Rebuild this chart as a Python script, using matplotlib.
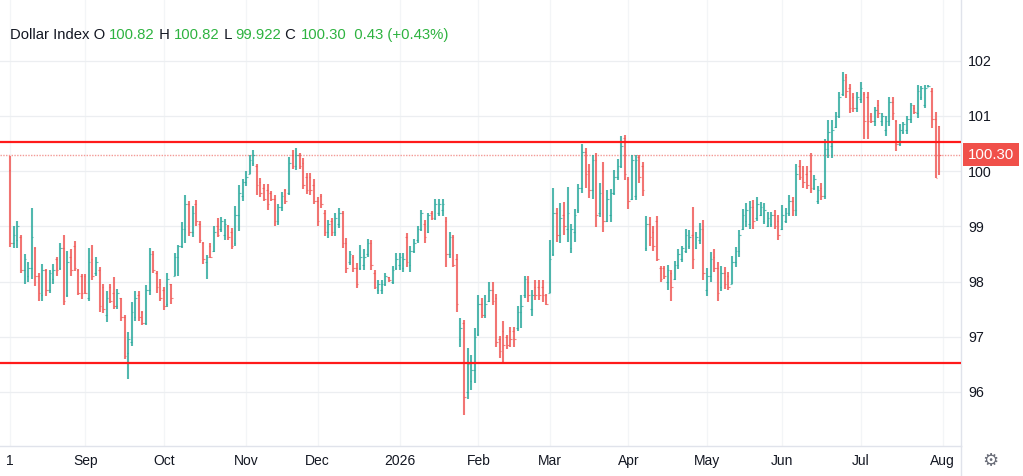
import matplotlib.pyplot as plt
import numpy as np

# daily OHLC bars, Aug 1 2025 .. Jul 31 2026
opens = [
    100.02, 98.70, 98.75, 98.80, 98.20, 98.10, 98.25, 98.60, 98.10, 97.75,
    98.20, 97.85, 98.05, 98.40, 98.25, 98.60, 97.75, 98.45, 98.65, 98.20,
    98.10, 98.10, 97.70, 98.40, 98.15, 98.20, 97.90, 97.40, 97.90, 97.80,
    97.55, 97.70, 97.35, 96.70, 96.90, 97.35, 97.75, 97.45, 97.25, 97.85,
    98.50, 98.15, 97.95, 97.85, 97.60, 97.95, 98.10, 98.45, 98.65, 98.95,
    99.40, 98.90, 99.40, 99.05, 98.70, 98.35, 98.65, 98.55, 99.00, 98.95,
    98.85, 99.00, 98.90, 98.70, 99.20, 99.55, 99.80, 99.95, 100.15, 100.10,
    99.80, 99.70, 99.65, 99.60, 99.50, 99.10, 99.35, 99.65, 99.60, 100.30,
    100.10, 100.30, 100.15, 99.90, 99.90, 99.75, 99.45, 99.55, 99.25, 98.90,
    99.10, 98.90, 99.05, 99.25, 98.70, 98.35, 98.45, 98.25, 98.25, 98.30,
    98.50, 98.70, 98.15, 97.85, 97.85, 97.95, 98.08, 98.00, 98.25, 98.30,
    98.25, 98.80, 98.30, 98.55, 98.75, 98.95, 99.05, 98.90, 99.25, 99.15,
    99.25, 99.30, 99.10, 98.50, 98.80, 98.40, 96.95, 97.25, 96.00, 96.20,
    96.40, 97.05, 97.60, 97.40, 97.65, 97.85, 97.70, 96.95, 97.10, 97.00,
    97.10, 97.10, 97.15, 97.45, 97.75, 98.00, 97.50, 97.90, 97.90, 97.90,
    97.75, 97.80, 98.50, 99.25, 98.85, 99.20, 98.95, 98.60, 98.90, 99.30,
    99.70, 100.35, 100.00, 99.65, 100.20, 99.25, 100.00, 99.10, 99.20, 99.60,
    99.90, 100.10, 100.60, 99.85, 99.50, 99.55, 100.25, 100.10, 98.60, 99.05,
    98.90, 99.10, 98.25, 98.25, 98.00, 98.15, 98.05, 98.30, 98.40, 98.55,
    98.65, 98.85, 98.60, 98.75, 98.95, 97.85, 98.10, 98.45, 98.25, 97.90,
    98.15, 98.10, 97.95, 98.35, 98.55, 98.95, 99.10, 99.05, 99.35, 99.15,
    99.20, 99.10, 99.00, 99.05, 99.20, 99.10, 98.95, 99.10, 99.25, 99.45,
    99.30, 100.10, 100.00, 99.95, 100.00, 99.70, 99.45, 99.70, 99.55, 100.40,
    100.45, 100.80, 101.00, 101.40, 101.70, 101.50, 101.35, 101.15, 101.30, 101.40,
    101.35, 101.00, 100.90, 101.20, 100.90, 100.75, 100.90, 101.25, 100.90, 100.50,
    100.70, 100.75, 100.95, 101.15, 101.05, 101.35, 101.20, 101.53, 101.45, 100.95,
    100.82,
]
highs = [
    100.27, 99.00, 99.09, 98.85, 98.49, 98.36, 99.34, 98.63, 98.15, 98.32,
    98.22, 98.20, 98.32, 98.45, 98.69, 98.85, 98.56, 98.58, 98.74, 98.23,
    98.14, 98.14, 98.61, 98.66, 98.45, 98.27, 97.95, 97.83, 97.95, 98.09,
    97.87, 97.71, 97.40, 97.08, 97.63, 97.83, 97.83, 97.47, 97.93, 98.61,
    98.55, 98.19, 98.05, 97.90, 98.15, 97.96, 98.51, 98.67, 99.08, 99.57,
    99.45, 99.36, 99.48, 99.10, 98.71, 98.48, 98.69, 99.00, 99.15, 99.17,
    99.13, 99.03, 98.97, 99.37, 99.74, 99.86, 100.01, 100.29, 100.38, 100.12,
    99.88, 99.76, 99.76, 99.64, 99.56, 99.41, 99.62, 99.68, 100.26, 100.38,
    100.41, 100.33, 100.24, 99.97, 99.97, 99.86, 99.53, 99.59, 99.30, 99.12,
    99.15, 99.25, 99.33, 99.27, 98.79, 98.55, 98.48, 98.33, 98.67, 98.59,
    98.77, 98.76, 98.21, 98.02, 98.03, 98.15, 98.09, 98.28, 98.52, 98.52,
    98.52, 98.88, 98.64, 98.77, 99.01, 99.29, 99.11, 99.25, 99.27, 99.50,
    99.50, 99.50, 99.16, 98.89, 98.84, 98.50, 97.33, 97.30, 96.79, 96.66,
    97.16, 97.75, 97.70, 97.75, 98.00, 97.99, 97.77, 97.02, 97.28, 97.03,
    97.18, 97.18, 97.55, 97.75, 98.10, 98.10, 97.85, 98.02, 98.02, 98.02,
    97.78, 98.76, 99.70, 99.34, 99.43, 99.44, 99.72, 99.05, 99.32, 99.76,
    100.50, 100.42, 100.12, 100.30, 100.32, 99.79, 100.16, 99.66, 99.67, 100.02,
    100.22, 100.63, 100.65, 99.90, 100.29, 100.29, 100.29, 100.17, 99.18, 99.17,
    99.00, 99.18, 98.29, 98.29, 98.30, 98.20, 98.38, 98.58, 98.65, 98.95,
    98.93, 99.35, 98.90, 99.06, 99.11, 98.25, 98.53, 98.59, 98.35, 98.29,
    98.27, 98.17, 98.47, 98.62, 98.93, 99.32, 99.42, 99.46, 99.47, 99.53,
    99.44, 99.42, 99.26, 99.26, 99.29, 99.20, 99.38, 99.33, 99.56, 99.53,
    100.13, 100.21, 100.09, 100.09, 100.32, 99.93, 99.73, 99.79, 100.58, 100.93,
    100.93, 101.08, 101.44, 101.80, 101.76, 101.58, 101.41, 101.44, 101.61, 101.44,
    101.44, 101.05, 101.16, 101.28, 101.06, 101.00, 101.34, 101.34, 100.93, 100.85,
    100.89, 101.00, 101.24, 101.20, 101.56, 101.55, 101.56, 101.56, 101.50, 101.08,
    100.82,
]
lows = [
    98.63, 98.60, 98.60, 98.15, 97.95, 97.99, 98.05, 97.92, 97.65, 97.65,
    97.74, 97.79, 97.96, 98.10, 98.20, 97.57, 97.72, 98.10, 98.19, 97.75,
    97.69, 97.77, 97.65, 98.02, 98.10, 97.45, 97.43, 97.27, 97.61, 97.51,
    97.50, 97.28, 96.60, 96.24, 96.84, 97.28, 97.28, 97.21, 97.22, 97.75,
    98.15, 97.79, 97.65, 97.48, 97.54, 97.60, 98.10, 98.10, 98.60, 98.69,
    98.83, 98.81, 99.00, 98.69, 98.32, 98.04, 98.42, 98.54, 98.81, 98.90,
    98.75, 98.75, 98.59, 98.64, 98.92, 99.45, 99.73, 99.94, 100.09, 99.57,
    99.54, 99.45, 99.30, 99.46, 99.00, 99.03, 99.27, 99.41, 99.57, 100.03,
    100.02, 100.03, 99.67, 99.59, 99.57, 99.41, 99.00, 99.33, 98.82, 98.79,
    98.82, 98.82, 98.97, 98.61, 98.15, 98.30, 98.18, 97.88, 98.21, 98.20,
    98.45, 98.21, 97.87, 97.78, 97.78, 97.91, 98.00, 97.96, 98.20, 98.20,
    98.18, 98.27, 98.18, 98.52, 98.70, 98.91, 98.70, 98.88, 99.11, 99.12,
    99.18, 99.18, 98.26, 98.42, 98.27, 97.45, 96.82, 95.58, 95.88, 96.03,
    96.17, 97.01, 97.33, 97.33, 97.63, 97.57, 96.82, 96.62, 96.51, 96.77,
    96.82, 96.82, 97.10, 97.15, 97.70, 97.62, 97.38, 97.66, 97.66, 97.63,
    97.57, 97.79, 98.46, 98.71, 98.69, 98.84, 98.71, 98.51, 98.71, 99.25,
    99.61, 99.69, 99.52, 99.49, 98.99, 99.17, 98.89, 99.08, 99.08, 99.56,
    99.84, 100.06, 99.84, 99.32, 99.47, 99.47, 99.78, 99.55, 98.55, 98.65,
    98.56, 98.37, 97.99, 98.05, 97.85, 97.64, 98.03, 98.23, 98.35, 98.52,
    98.59, 98.23, 98.59, 98.68, 98.03, 97.73, 97.99, 98.17, 97.64, 97.82,
    97.87, 97.85, 97.95, 98.27, 98.44, 98.93, 98.99, 98.96, 98.96, 99.10,
    99.18, 99.05, 98.98, 98.99, 98.95, 98.76, 98.94, 99.06, 99.18, 99.18,
    99.18, 99.84, 99.70, 99.68, 99.61, 99.65, 99.40, 99.48, 99.50, 100.23,
    100.23, 100.78, 100.96, 101.36, 101.32, 101.06, 101.08, 101.08, 101.23, 100.58,
    100.58, 100.88, 100.82, 100.96, 100.82, 100.64, 100.82, 100.93, 100.37, 100.45,
    100.67, 100.68, 100.88, 101.04, 100.96, 101.29, 101.14, 101.53, 100.78, 99.87,
    99.922,
]
closes = [
    98.70, 98.85, 99.00, 98.20, 98.40, 98.25, 98.80, 98.10, 97.80, 98.20,
    97.85, 98.15, 98.20, 98.20, 98.60, 97.65, 98.35, 98.20, 98.25, 97.80,
    97.80, 97.80, 98.35, 98.10, 98.35, 97.55, 97.50, 97.70, 97.65, 97.55,
    97.80, 97.35, 96.65, 96.95, 97.45, 97.70, 97.35, 97.25, 97.85, 98.50,
    98.20, 97.90, 97.70, 97.55, 98.05, 97.70, 98.45, 98.65, 98.95, 99.40,
    98.90, 99.25, 99.10, 98.75, 98.40, 98.45, 98.45, 98.90, 98.85, 99.10,
    99.05, 98.80, 98.65, 99.20, 99.60, 99.80, 99.90, 100.20, 100.30, 99.75,
    99.60, 99.50, 99.40, 99.50, 99.10, 99.35, 99.55, 99.45, 100.15, 100.10,
    100.30, 100.10, 99.75, 99.65, 99.65, 99.45, 99.10, 99.40, 98.90, 99.05,
    98.90, 99.15, 99.25, 98.70, 98.25, 98.50, 98.25, 97.95, 98.45, 98.45,
    98.70, 98.30, 97.90, 97.95, 97.95, 98.10, 98.02, 98.20, 98.40, 98.45,
    98.40, 98.35, 98.55, 98.70, 98.95, 99.25, 98.80, 99.20, 99.15, 99.40,
    99.40, 99.40, 98.50, 98.80, 98.30, 97.60, 97.15, 95.90, 96.50, 96.40,
    97.00, 97.60, 97.40, 97.60, 97.85, 97.65, 96.90, 96.75, 96.85, 96.85,
    96.95, 96.95, 97.45, 97.55, 98.05, 97.75, 97.75, 97.75, 97.75, 97.75,
    97.60, 98.40, 99.25, 98.85, 99.15, 99.00, 99.25, 98.95, 99.20, 99.70,
    100.35, 99.95, 99.65, 100.20, 99.20, 99.60, 99.10, 99.50, 99.60, 99.90,
    100.10, 100.45, 99.95, 99.45, 100.20, 100.20, 99.90, 99.65, 99.05, 98.80,
    98.65, 98.40, 98.05, 98.10, 98.20, 97.90, 98.30, 98.50, 98.60, 98.85,
    98.80, 98.40, 98.80, 98.95, 98.15, 98.10, 98.40, 98.25, 97.80, 98.15,
    97.95, 97.90, 98.35, 98.55, 98.85, 99.20, 99.30, 99.35, 99.10, 99.40,
    99.35, 99.30, 99.15, 99.20, 99.00, 98.85, 99.20, 99.25, 99.45, 99.30,
    99.95, 99.90, 99.80, 99.75, 99.70, 99.85, 99.65, 99.55, 100.40, 100.70,
    100.75, 101.00, 101.35, 101.65, 101.45, 101.15, 101.15, 101.35, 101.50, 100.90,
    100.90, 100.90, 101.10, 101.05, 101.00, 100.90, 101.25, 101.05, 100.50, 100.75,
    100.85, 100.95, 101.20, 101.08, 101.45, 101.50, 101.50, 101.55, 100.95, 99.87,
    100.30,
]

month_labels = ['1', 'Sep', 'Oct', 'Nov', 'Dec', '2026', 'Feb', 'Mar', 'Apr', 'May', 'Jun', 'Jul', 'Aug']
month_first_bar = [0, 21, 43, 66, 86, 109, 131, 151, 173, 195, 216, 238, 261]
price_ticks = [96, 97, 98, 99, 100, 101, 102]
levels = [100.53, 96.52]
last_price = 100.30

header = [
    ('Dollar Index O ', 'dark'), ('100.82', 'green'), (' H ', 'dark'), ('100.82', 'green'),
    (' L ', 'dark'), ('99.922', 'green'), (' C ', 'dark'), ('100.30', 'green'),
    ('  0.43 (+0.43%)', 'green'),
]

UP, DOWN = '#26a69a', '#ef5350'
TEXT = '#131722'
plt.rcParams['font.family'] = ['Liberation Sans', 'DejaVu Sans']

W, H = 1023, 476
fig = plt.figure(figsize=(W / 100, H / 100), dpi=100)
ax = fig.add_axes([0, 30 / H, 961 / W, 446 / H])

o, h, l, c = map(np.array, (opens, highs, lows, closes))
x = np.arange(len(o))
cols = np.where(c >= o, UP, DOWN)

ax.vlines(x, l, h, colors=cols, lw=1.5, alpha=0.8, zorder=3)
ax.hlines(o, x - 0.45, x, colors=cols, lw=0.8, alpha=0.7, zorder=3)
ax.hlines(c, x, x + 0.45, colors=cols, lw=0.8, alpha=0.7, zorder=3)

for lv in levels:
    ax.axhline(lv, color='#ff1a1a', lw=1.6, zorder=4)
ax.axhline(last_price, color='#f39a96', lw=1.0, ls=(0, (1, 1)), zorder=2)

ax.set_xlim(-2.88, 266.1)
ax.set_ylim(95.02, 103.1)

ax.set_yticks(price_ticks)
ax.set_yticklabels([str(p) for p in price_ticks])
ax.yaxis.tick_right()
ax.tick_params(axis='y', length=0, pad=5, labelsize=10.3, labelcolor=TEXT)
ax.set_xticks(month_first_bar)
ax.set_xticklabels(month_labels)
ax.tick_params(axis='x', length=0, pad=6, labelsize=10, labelcolor=TEXT)
ax.grid(axis='y', color='#eceef1', lw=0.9)
ax.grid(axis='x', color='#f3f5f7', lw=0.9)

for s in ['top', 'left']:
    ax.spines[s].set_visible(False)
for s in ['right', 'bottom']:
    ax.spines[s].set_color('#e0e3eb')
    ax.spines[s].set_linewidth(1.0)

# last price tag on the scale
ax.annotate(f'{last_price:.2f}', xy=(1.0, last_price), xycoords=('axes fraction', 'data'),
            xytext=(7, 0), textcoords='offset pixels', ha='left', va='center',
            fontsize=10.8, color='white', annotation_clip=False, zorder=6,
            bbox=dict(boxstyle='square,pad=0.32', fc='#f0504a', ec='none'))

# header line with coloured pieces
fig.canvas.draw()
r = fig.canvas.get_renderer()
xp = 10
for txt, kind in header:
    t = fig.text(xp / W, 1 - 35 / H, txt, fontsize=10.7, va='center', ha='left',
                 color=TEXT if kind == 'dark' else '#2eb340')
    xp += t.get_window_extent(renderer=r).width

# settings gear next to the time scale
fig.text(990 / W, 15 / H, '\u2699', fontsize=13, color='#6a6d78', ha='center', va='center',
         family='DejaVu Sans')
fig.add_artist(plt.Line2D([961 / W, 961 / W], [0, 30 / H], color='#e0e3eb', lw=1.0))

fig.savefig('out.png', dpi=100, facecolor='white')
